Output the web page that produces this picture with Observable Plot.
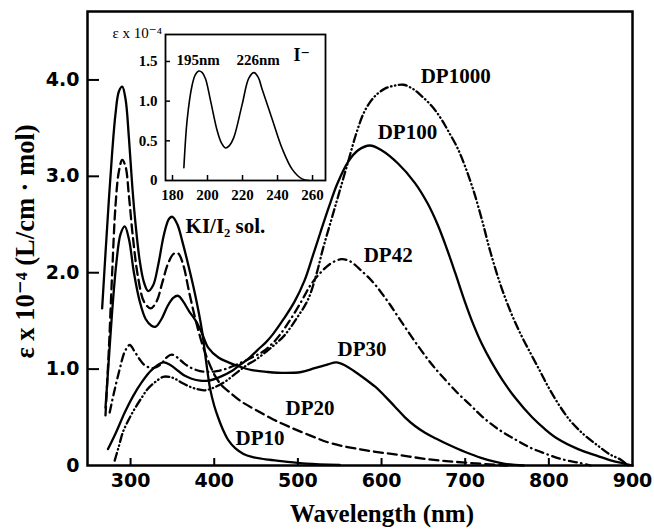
<!DOCTYPE html>
<html><head><meta charset="utf-8">
<script src="https://cdn.jsdelivr.net/npm/d3@7"></script>
<script src="https://cdn.jsdelivr.net/npm/@observablehq/plot@0.6"></script>
<style>
html,body{margin:0;padding:0;background:#fff;}
#wrap{position:relative;width:654px;height:529px;overflow:hidden;background:#fff;}
#wrap svg{position:absolute;}
</style></head><body><div id="wrap"></div>
<script>
// ---- tick values / labels ----
const xTicks = [300, 400, 500, 600, 700, 800, 900];
const yTicks = [0, 1, 2, 3, 4];
const yTickLabels = ["0", "1.0", "2.0", "3.0", "4.0"];
const insetXTicks = [180, 200, 220, 240, 260];
const insetYTicks = [0, 0.5, 1.0, 1.5];
const insetYTickLabels = ["0", "0.5", "1.0", "1.5"];

// ---- series: [wavelength nm, epsilon x 1e-4] ----
const KI_I2 = [[266,1.63],[270,2.2],[274,2.75],[278,3.25],[282,3.65],[286,3.88],[290,3.93],[294,3.8],[298,3.4],[302,2.9],[306,2.5],[311,2.12],[316,1.9],[321,1.81],[327,1.87],[333,2.08],[340,2.4],[346,2.56],[350,2.58],[356,2.5],[362,2.32],[369,2.08],[377,1.78],[385,1.42],[390,1.1],[395,0.8],[400,0.62],[405,0.49],[411,0.36],[417,0.26],[425,0.18],[435,0.12],[445,0.09],[465,0.06],[485,0.04],[510,0.02],[550,0.005]];
const DP20 = [[270,0.52],[274,1.2],[278,2.0],[282,2.7],[286,3.05],[290,3.17],[294,3.1],[298,2.8],[303,2.35],[309,1.95],[316,1.7],[324,1.63],[331,1.7],[338,1.9],[345,2.1],[352,2.2],[357,2.2],[363,2.08],[370,1.8],[378,1.5],[386,1.25],[393,1.08],[401,0.93],[409,0.83],[417,0.77],[433,0.66],[449,0.58],[470,0.48],[490,0.4],[515,0.31],[540,0.23],[580,0.16],[620,0.11],[660,0.06],[700,0.03],[750,0]];
const DP30 = [[270,0.6],[274,1.1],[278,1.6],[283,2.1],[288,2.4],[293,2.48],[298,2.35],[304,2.0],[311,1.7],[318,1.52],[325,1.45],[330,1.44],[337,1.52],[344,1.65],[351,1.74],[357,1.76],[363,1.7],[370,1.6],[378,1.5],[385,1.38],[393,1.22],[405,1.12],[417,1.07],[429,1.03],[445,0.99],[464,0.97],[485,0.96],[504,0.97],[520,1.01],[536,1.05],[546,1.07],[556,1.04],[567,0.98],[580,0.9],[592,0.82],[604,0.72],[616,0.61],[628,0.5],[640,0.41],[652,0.34],[665,0.28],[679,0.22],[700,0.14],[719,0.08],[746,0.02],[770,0]];
const DP42 = [[275,0.55],[280,0.75],[287,1.0],[293,1.18],[299,1.25],[305,1.18],[311,1.1],[317,1.04],[327,1.01],[336,1.05],[343,1.12],[349,1.15],[356,1.12],[364,1.06],[373,1.01],[383,0.98],[393,0.97],[403,0.98],[413,1.0],[425,1.04],[440,1.1],[458,1.18],[470,1.27],[478,1.35],[490,1.5],[504,1.7],[515,1.87],[527,2.0],[540,2.1],[552,2.14],[562,2.12],[576,2.02],[590,1.9],[600,1.79],[610,1.67],[620,1.54],[634,1.36],[647,1.2],[660,1.05],[671,0.94],[690,0.76],[707,0.62],[720,0.51],[739,0.38],[760,0.27],[779,0.18],[800,0.11],[818,0.06],[835,0.03],[850,0]];
const DP100 = [[273,0.17],[283,0.35],[293,0.55],[303,0.72],[313,0.86],[325,0.99],[339,1.07],[348,1.04],[357,0.98],[365,0.93],[373,0.9],[383,0.88],[393,0.88],[407,0.92],[421,0.98],[430,1.04],[440,1.1],[452,1.2],[462,1.28],[470,1.36],[483,1.52],[496,1.7],[508,1.92],[518,2.18],[527,2.42],[537,2.68],[547,2.92],[560,3.15],[572,3.27],[586,3.32],[600,3.27],[620,3.13],[640,2.93],[655,2.72],[667,2.5],[678,2.25],[688,2.0],[698,1.74],[709,1.48],[720,1.26],[731,1.08],[745,0.88],[760,0.7],[780,0.5],[795,0.38],[810,0.28],[835,0.17],[858,0.1],[875,0.05],[890,0.02],[900,0]];
const DP1000 = [[281,0.05],[286,0.2],[291,0.35],[298,0.48],[305,0.59],[313,0.7],[321,0.8],[330,0.87],[339,0.92],[346,0.92],[353,0.9],[363,0.85],[373,0.81],[381,0.79],[389,0.78],[400,0.81],[413,0.87],[425,0.95],[437,1.03],[450,1.1],[462,1.18],[473,1.26],[484,1.35],[498,1.52],[512,1.72],[522,1.98],[530,2.25],[540,2.55],[550,2.85],[560,3.15],[570,3.45],[580,3.68],[592,3.83],[604,3.91],[615,3.94],[626,3.95],[637,3.91],[647,3.84],[660,3.73],[671,3.6],[681,3.45],[691,3.29],[700,3.1],[710,2.85],[720,2.55],[730,2.22],[742,1.88],[755,1.58],[767,1.35],[779,1.15],[790,0.97],[799,0.82],[812,0.63],[826,0.46],[842,0.32],[858,0.21],[872,0.12],[886,0.06],[895,0]];
// inset: iodide ion
const I_MINUS = [[186.5,0.16],[188.4,0.77],[191.2,1.2],[193,1.33],[195,1.38],[197,1.36],[198.9,1.28],[201.7,1.01],[205.5,0.63],[208,0.47],[210.3,0.41],[212.5,0.44],[215,0.54],[219.8,0.96],[223.6,1.29],[226.5,1.36],[229,1.3],[231.2,1.15],[237,0.77],[242.7,0.4],[248.4,0.14],[254,0.02],[258,0]];

// ---- curve labels ----
const labelText = ["DP1000", "DP100", "DP42", "DP30", "DP20", "DP10", "KI/I\u2082 sol."];
const labelX = [646.8, 595.4, 578.6, 547.5, 485.3, 425.5, 365.7];
const labelY = [3.97, 3.39, 2.11, 1.14, 0.52, 0.21, 2.41];
const insetLabelText = ["195nm", "226nm"];
const insetLabelX = [194.6, 228.9];
const insetLabelY = [1.45, 1.45];

const SERIF = "'Liberation Serif','DejaVu Serif',serif";
const SANS = "'DejaVu Sans',sans-serif";

// ---- main chart ----
const W = 654, H = 529, mL = 87, mR = 22, mT = 11, mB = 64;
const innerW = W - mL - mR, innerH = H - mT - mB;
const lineOpts = {x: d => d[0], y: d => d[1], stroke: "black", strokeWidth: 2.3, curve: "catmull-rom"};
const labels = labelText.map((t, i) => ({t, x: labelX[i], y: labelY[i]}));

const main = Plot.plot({
  width: W, height: H,
  marginLeft: mL, marginRight: mR, marginTop: mT, marginBottom: mB,
  style: {background: "transparent", color: "black"},
  x: {domain: [248.5, 900]},
  y: {domain: [0, 4.71]},
  marks: [
    Plot.axisX(xTicks, {tickSize: 0, tickPadding: 8, fontSize: 19, fontWeight: "bold", fontFamily: SANS, label: null}),
    Plot.axisY(yTicks, {tickSize: 0, tickPadding: 8, fontSize: 19, fontWeight: "bold", fontFamily: SANS, label: null,
      tickFormat: d => yTickLabels[yTicks.indexOf(d)]}),
    Plot.tickX(xTicks.slice(0, -1), {x: d => d, insetTop: innerH - 7, strokeWidth: 2}),
    Plot.tickY(yTicks.slice(1), {y: d => d, insetRight: innerW - 12, strokeWidth: 2}),
    Plot.line(KI_I2, lineOpts),
    Plot.line(DP20, {...lineOpts, strokeDasharray: "9,5"}),
    Plot.line(DP30, lineOpts),
    Plot.line(DP42, {...lineOpts, strokeDasharray: "8,4.5,0.5,4.5"}),
    Plot.line(DP100, lineOpts),
    Plot.line(DP1000, {...lineOpts, strokeDasharray: "8,3.5,0.5,3.5,0.5,3.5"}),
    Plot.frame({strokeWidth: 2.5}),
    Plot.text(labels, {x: "x", y: "y", text: "t", textAnchor: "start", lineAnchor: "bottom",
      fontFamily: SERIF, fontWeight: "bold", fontSize: 21}),
    Plot.text(["\u03b5 x 10\u207b\u2074 (L/cm \u00b7 mol)"], {frameAnchor: "left", rotate: -90, dx: -62, dy: 3,
      textAnchor: "middle", lineAnchor: "middle", fontFamily: SERIF, fontWeight: "bold", fontSize: 26.5}),
    Plot.text(["Wavelength (nm)"], {frameAnchor: "bottom", dx: 22, dy: 56, textAnchor: "middle", lineAnchor: "bottom",
      fontFamily: SERIF, fontWeight: "bold", fontSize: 25})
  ]
});
main.style.left = "0px"; main.style.top = "0px";
document.getElementById("wrap").appendChild(main);

// ---- inset ----
const iW = 230, iH = 190, imL = 65, imR = 5, imT = 19, imB = 25;
const iInnerW = iW - imL - imR, iInnerH = iH - imT - imB;
const inset = Plot.plot({
  width: iW, height: iH,
  marginLeft: imL, marginRight: imR, marginTop: imT, marginBottom: imB,
  style: {background: "transparent", color: "black"},
  x: {domain: [176, 267.4]},
  y: {domain: [0, 1.84]},
  marks: [
    Plot.frame({fill: "white", stroke: null}),
    Plot.axisX(insetXTicks, {tickSize: 0, tickPadding: 9, fontSize: 15, fontWeight: "bold", fontFamily: SERIF, label: null}),
    Plot.axisY(insetYTicks, {tickSize: 0, tickPadding: 8, fontSize: 15, fontWeight: "bold", fontFamily: SERIF, label: null,
      tickFormat: d => insetYTickLabels[insetYTicks.indexOf(d)]}),
    Plot.tickX(insetXTicks, {x: d => d, insetTop: iInnerH - 5, strokeWidth: 1.5}),
    Plot.tickY(insetYTicks.slice(1), {y: d => d, insetRight: iInnerW - 5, strokeWidth: 1.5}),
    Plot.line(I_MINUS, {x: d => d[0], y: d => d[1], stroke: "black", strokeWidth: 1.6, curve: "catmull-rom"}),
    Plot.frame({strokeWidth: 1.8}),
    Plot.text(insetLabelText, {x: (d, i) => insetLabelX[i], y: (d, i) => insetLabelY[i], text: d => d,
      textAnchor: "middle", lineAnchor: "bottom", fontFamily: SERIF, fontWeight: "bold", fontSize: 15}),
    Plot.text(["I\u207b"], {x: () => 249.1, y: () => 1.5, textAnchor: "start", lineAnchor: "bottom",
      fontFamily: SERIF, fontWeight: "bold", fontSize: 18}),
    Plot.text(["\u03b5 x 10\u207b\u2074"], {frameAnchor: "top-left", dx: -53, dy: 3, textAnchor: "start", lineAnchor: "bottom",
      fontFamily: SERIF, fontSize: 15})
  ]
});
inset.style.left = "100px"; inset.style.top = "15px";
document.getElementById("wrap").appendChild(inset);
</script>
</body></html>
